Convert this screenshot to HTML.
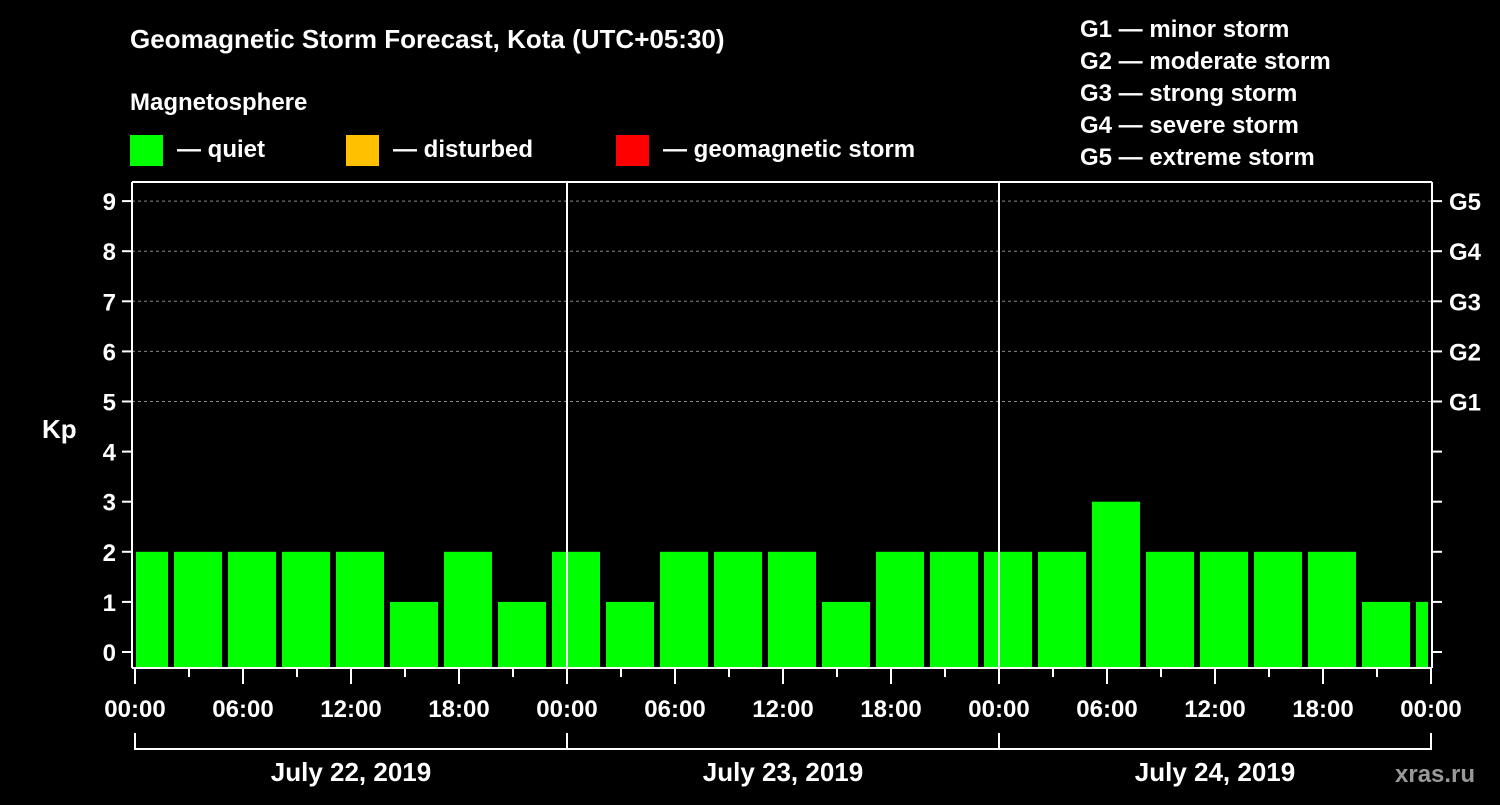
<!DOCTYPE html>
<html><head><meta charset="utf-8"><style>
html,body{margin:0;padding:0;background:#000;}
svg text{font-family:"Liberation Sans",sans-serif;font-weight:bold;fill:#fff;}
</style></head><body>
<svg id="chart" width="1500" height="800" viewBox="0 0 1500 800" xmlns="http://www.w3.org/2000/svg">
<rect width="1500" height="800" fill="#000"/>
<text x="130" y="48" font-size="26">Geomagnetic Storm Forecast, Kota (UTC+05:30)</text>
<text x="130" y="110" font-size="24">Magnetosphere</text>
<rect x="130" y="135" width="33" height="31" fill="#00ff00"/>
<text x="177" y="157" font-size="24">— quiet</text>
<rect x="346" y="135" width="33" height="31" fill="#ffc000"/>
<text x="393" y="157" font-size="24">— disturbed</text>
<rect x="616" y="135" width="33" height="31" fill="#ff0000"/>
<text x="663" y="157" font-size="24">— geomagnetic storm</text>
<g font-size="24">
<text x="1080" y="37">G1 — minor storm</text>
<text x="1080" y="69">G2 — moderate storm</text>
<text x="1080" y="101">G3 — strong storm</text>
<text x="1080" y="133">G4 — severe storm</text>
<text x="1080" y="165">G5 — extreme storm</text>
</g>
<text x="42" y="438" font-size="26">Kp</text>
<text x="1395" y="782" font-size="24" fill="#888" style="fill:#999">xras.ru</text>
<g id="grid"></g><g id="bars"></g><g id="axes"></g>
</svg>
<script>
const kpValues = [2,2,2,2,2,1,2,1,2,1,2,2,2,1,2,2,2,2,3,2,2,2,2,1,1];
const barStartHours = [-1,2,5,8,11,14,17,20,23,26,29,32,35,38,41,44,47,50,53,56,59,62,65,68,71];
const yTicks = [0,1,2,3,4,5,6,7,8,9];
const gLabels = ["G1","G2","G3","G4","G5"];
const gLevels = [5,6,7,8,9];
const xTickLabels = ["00:00","06:00","12:00","18:00","00:00","06:00","12:00","18:00","00:00","06:00","12:00","18:00","00:00"];
const dayLabels = ["July 22, 2019","July 23, 2019","July 24, 2019"];

const X0=135, PXH=18, Y0=652, PXK=50.1, TOP=182, BOT=668, RIGHT=1432, XEND=1431;
const xs = h => X0 + h*PXH;
const ys = k => Y0 - k*PXK;
const NS="http://www.w3.org/2000/svg";
function mk(tag, attrs, parent){const e=document.createElementNS(NS,tag);for(const k in attrs)e.setAttribute(k,attrs[k]);parent.appendChild(e);return e;}
const grid=document.getElementById('grid'), bars=document.getElementById('bars'), axes=document.getElementById('axes');

yTicks.forEach(k=>{
  if(k>=5){const l=mk('line',{x1:132,x2:RIGHT,y1:ys(k),y2:ys(k),stroke:'#888','stroke-dasharray':'3,3','stroke-width':1},grid);
  
  }
  const t=mk('line',{x1:122,x2:132,y1:ys(k),y2:ys(k),stroke:'#fff','stroke-width':2},axes);
  
  
  const r=mk('line',{x1:RIGHT,x2:1442,y1:ys(k),y2:ys(k),stroke:'#fff','stroke-width':2},axes);
  
  
  const tx=mk('text',{x:116,y:ys(k)+9,'font-size':24,'text-anchor':'end'},axes);
  tx.textContent=k;
  
  
});
gLabels.forEach((g,i)=>{
  const tx=mk('text',{x:1449,y:ys(gLevels[i])+9,'font-size':24},axes);
  tx.textContent=g;
  
  
});
kpValues.forEach((v,i)=>{
  let x1=xs(barStartHours[i])+3, x2=xs(barStartHours[i]+3)-3;
  x1=Math.max(x1,X0+1); x2=Math.min(x2,XEND-3);
  const c = v>=5?'#ff0000':(v>=4?'#ffc000':'#00ff00');
  const r=mk('rect',{x:x1,y:ys(v),width:x2-x1,height:BOT-ys(v),fill:c},bars);
  
  
});
// frame
[[132,TOP,RIGHT,TOP],[132,TOP,132,BOT],[RIGHT,TOP,RIGHT,BOT],[132,BOT,RIGHT,BOT],[xs(24),TOP,xs(24),BOT],[xs(48),TOP,xs(48),BOT]].forEach(a=>{
  const l=mk('line',{x1:a[0],y1:a[1],x2:a[2],y2:a[3],stroke:'#fff','stroke-width':2},axes);
  
  
});
for(let h=0;h<=72;h+=3){
  const major=h%6===0;
  const l=mk('line',{x1:xs(h),x2:xs(h),y1:BOT,y2:BOT+(major?16:9),stroke:'#fff','stroke-width':2},axes);
  
  
}
xTickLabels.forEach((s,i)=>{
  const t=mk('text',{x:xs(i*6),y:717,'font-size':24,'text-anchor':'middle'},axes);
  t.textContent=s;
  
  
});
const br=mk('line',{x1:xs(0),x2:xs(72),y1:749,y2:749,stroke:'#fff','stroke-width':2},axes);


[0,24,48,72].forEach(h=>{
  const l=mk('line',{x1:xs(h),x2:xs(h),y1:733,y2:750,stroke:'#fff','stroke-width':2},axes);
  
  
});
dayLabels.forEach((d,i)=>{
  const t=mk('text',{x:xs(i*24+12),y:781,'font-size':26,'text-anchor':'middle'},axes);
  t.textContent=d;
  
  
});
</script>
</body></html>
